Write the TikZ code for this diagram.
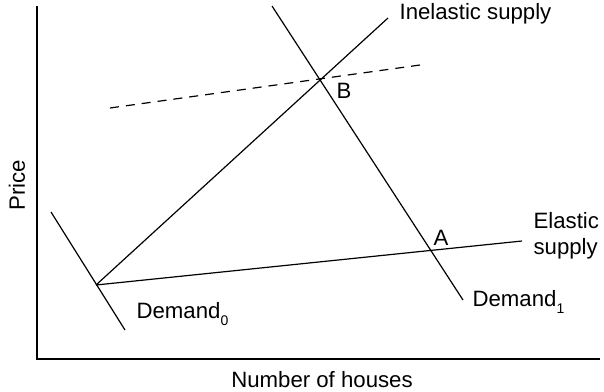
\documentclass[tikz,border=0pt]{standalone}
\usepackage{fontspec}
\setmainfont{Liberation Sans}
\usepackage{tikz}
\usetikzlibrary{positioning,calc}
\newcommand{\lowsub}[1]{\raisebox{-0.55ex}{\fontsize{7}{8}\selectfont #1}}

\begin{document}
\begin{tikzpicture}[x=0.5pt,y=-0.5pt,line width=0.6pt,every node/.style={font=\fontsize{11.1}{13}\selectfont,inner sep=0pt}]
\useasboundingbox (0,0) rectangle (604,391);
% axes
\coordinate (top) at (37,6);
\coordinate (origin) at (37,359);
\coordinate (right) at (600,359);
\draw (top) -- (origin) -- (right);
\node[rotate=90] (price) at (17,185) {Price};
\node (qty) at (322,380) {Number of houses};
% demand curves
\coordinate (d0a) at (51,212);
\coordinate (d0b) at (125,330);
\coordinate (d1a) at (272,6);
\coordinate (d1b) at (463,300);
\draw (d0a) -- (d0b);
\draw (d1a) -- (d1b);
% supply curves
\coordinate (eq0) at (96,285);
\coordinate (inel) at (388,18);
\coordinate (elas) at (522,241);
\draw (eq0) -- (inel);
\draw (eq0) -- (elas);
\draw[dashed,dash pattern=on 4.5pt off 3.5pt] (110,108) -- (420,65);
% labels
\node[anchor=west] (linel) at (399,14) {Inelastic supply};
\node[align=left,anchor=west] (lelas) at (533,236) {Elastic\\supply};
\node (B) at (344,91) {B};
\node (A) at (441,238) {A};
\node[anchor=west] (ld1) at (472,302) {Demand\lowsub{1}};
\node[anchor=west] (ld0) at (136,314) {Demand\lowsub{0}};
\end{tikzpicture}
\end{document}
